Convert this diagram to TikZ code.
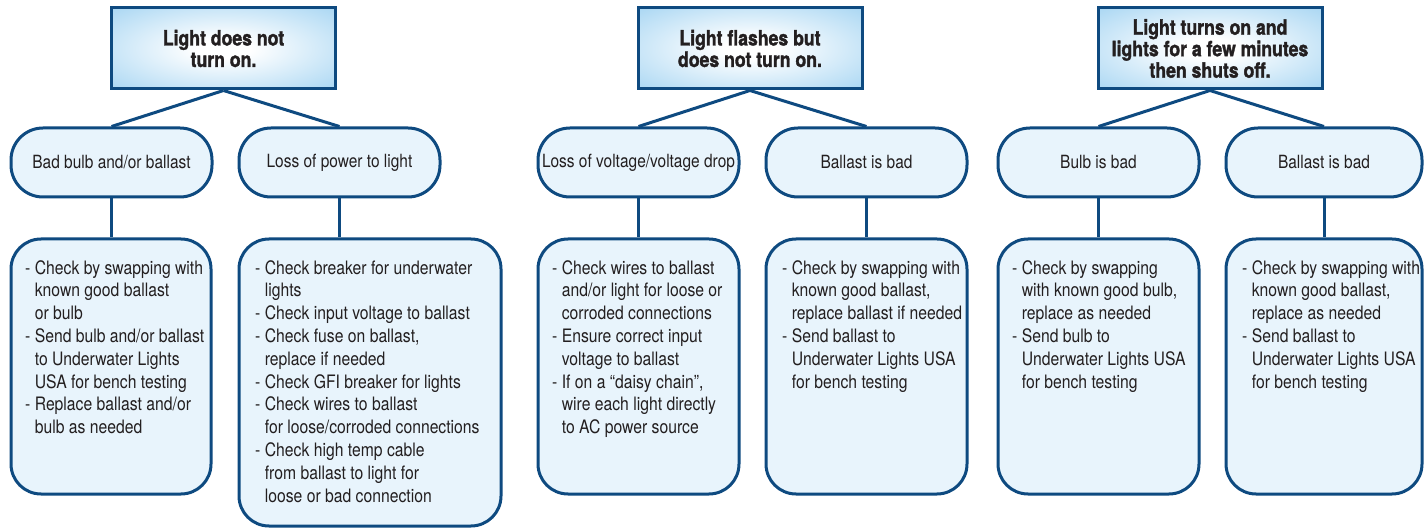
\documentclass[tikz,border=0pt]{standalone}
\usepackage{fontspec}
\setmainfont{TeX Gyre Heros}[FakeStretch=0.85]
\newfontfamily\titlefont{TeX Gyre Heros}[FakeStretch=0.84, BoldFeatures={FakeBold=1.6}]
\definecolor{lineblue}{HTML}{0E4A80}
\definecolor{boxfill}{HTML}{E8F4FC}
\definecolor{txt}{HTML}{231F20}
\definecolor{topblue}{HTML}{86C6EE}
\pgfdeclareradialshading{topglow}{\pgfpoint{0bp}{0bp}}{color(0bp)=(white); color(6bp)=(white); color(48bp)=(topblue); color(71bp)=(topblue)}
\tikzset{
  topbox/.style={draw=lineblue, line width=3pt, shading=topglow, inner sep=0pt,
    minimum height=81pt, minimum width=224pt, align=center, text=txt,
    font=\titlefont\bfseries\fontsize{21}{21.5}\selectfont},
  causebox/.style={draw=lineblue, line width=3pt, fill=boxfill, rounded corners=32pt,
    minimum height=69pt, inner sep=0pt, text=txt, font=\fontsize{18.2}{22}\selectfont},
  detailbox/.style={draw=lineblue, line width=3pt, fill=boxfill, rounded corners=30pt,
    inner sep=0pt},
  detailtext/.style={anchor=north west, inner sep=0pt, align=left, text=txt,
    font=\fontsize{18.5}{22.8}\selectfont},
  link/.style={draw=lineblue, line width=3pt}
}
\newcommand{\ind}{\hphantom{- }}
\begin{document}
\begin{tikzpicture}[x=1pt, y=-1pt]
\useasboundingbox (0,0) rectangle (1425,529);
% top boxes
\node[topbox] (t1) at (223.5,48.5) {Light does not\\turn on.};
\node[topbox] (t2) at (750,48.5) {Light flashes but\\does not turn on.};
\node[topbox] (t3) at (1210,48.5) {Light turns on and\\lights for a few minutes\\then shuts off.};
% cause boxes
\node[causebox, minimum width=201pt] (a) at (111.5,162.5) {Bad bulb and/or ballast};
\node[causebox, minimum width=201pt] (b) at (339.5,162.5) {Loss of power to light};
\node[causebox, minimum width=201pt] (c) at (638.5,162.5) {Loss of voltage/voltage drop};
\node[causebox, minimum width=201pt] (d) at (866.5,162.5) {Ballast is bad};
\node[causebox, minimum width=201pt] (e) at (1098.5,162.5) {Bulb is bad};
\node[causebox, minimum width=196pt] (f) at (1324,162.5) {Ballast is bad};
% detail boxes
\node[detailbox, minimum width=200pt, minimum height=255pt] (a3) at (111,366.5) {};
\node[detailbox, minimum width=262pt, minimum height=287pt] (b3) at (370,382.5) {};
\node[detailbox, minimum width=201pt, minimum height=255pt] (c3) at (638.5,366.5) {};
\node[detailbox, minimum width=201pt, minimum height=255pt] (d3) at (866.5,366.5) {};
\node[detailbox, minimum width=201pt, minimum height=255pt] (e3) at (1098.5,366.5) {};
\node[detailbox, minimum width=196pt, minimum height=255pt] (f3) at (1324,366.5) {};
% connectors
\draw[link] (t1.south) -- (a.north);
\draw[link] (t1.south) -- (b.north);
\draw[link] (t2.south) -- (c.north);
\draw[link] (t2.south) -- (d.north);
\draw[link] (t3.south) -- (e.north);
\draw[link] (t3.south) -- (f.north);
\draw[link] (a.south) -- (a.south |- a3.north);
\draw[link] (b.south) -- (b.south |- b3.north);
\draw[link] (c.south) -- (c.south |- c3.north);
\draw[link] (d.south) -- (d.south |- d3.north);
\draw[link] (e.south) -- (e.south |- e3.north);
\draw[link] (f.south) -- (f.south |- f3.north);
% detail texts
\node[detailtext] (a3t) at (25,260) {- Check by swapping with\\\ind known good ballast\\\ind or bulb\\- Send bulb and/or ballast\\\ind to Underwater Lights\\\ind USA for bench testing\\- Replace ballast and/or\\\ind bulb as needed};
\node[detailtext] (b3t) at (255,260) {- Check breaker for underwater\\\ind lights\\- Check input voltage to ballast\\- Check fuse on ballast,\\\ind replace if needed\\- Check GFI breaker for lights\\- Check wires to ballast\\\ind for loose/corroded connections\\- Check high temp cable\\\ind from ballast to light for\\\ind loose or bad connection};
\node[detailtext] (c3t) at (552,260) {- Check wires to ballast\\\ind and/or light for loose or\\\ind corroded connections\\- Ensure correct input\\\ind voltage to ballast\\- If on a “daisy chain”,\\\ind wire each light directly\\\ind to AC power source};
\node[detailtext] (d3t) at (782,260) {- Check by swapping with\\\ind known good ballast,\\\ind replace ballast if needed\\- Send ballast to\\\ind Underwater Lights USA\\\ind for bench testing};
\node[detailtext] (e3t) at (1012,260) {- Check by swapping\\\ind with known good bulb,\\\ind replace as needed\\- Send bulb to\\\ind Underwater Lights USA\\\ind for bench testing};
\node[detailtext] (f3t) at (1242,260) {- Check by swapping with\\\ind known good ballast,\\\ind replace as needed\\- Send ballast to\\\ind Underwater Lights USA\\\ind for bench testing};
\end{tikzpicture}
\end{document}
